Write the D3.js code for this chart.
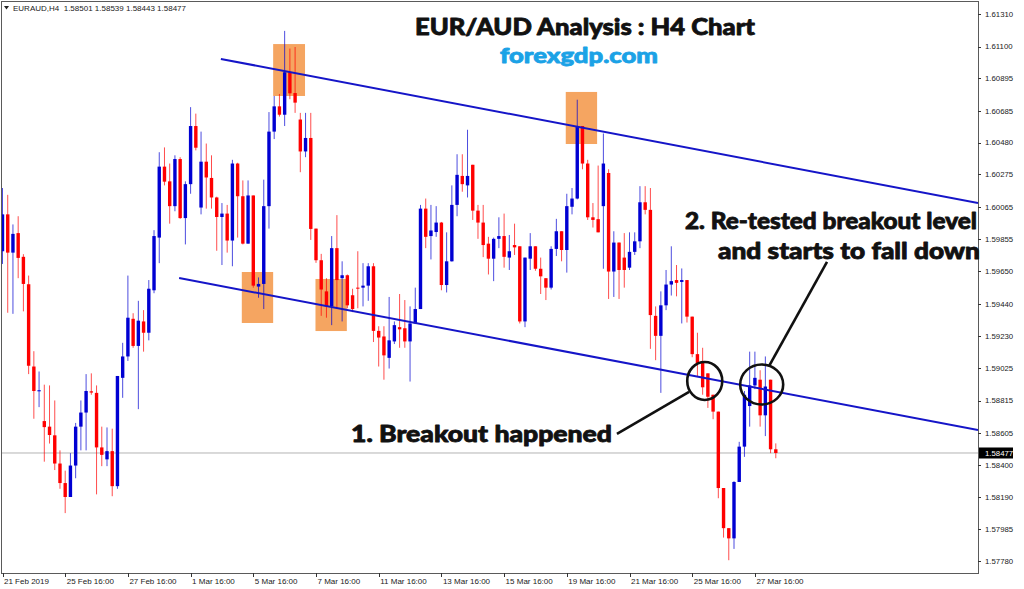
<!DOCTYPE html>
<html><head><meta charset="utf-8">
<script src="https://cdn.jsdelivr.net/npm/d3@7"></script>
<style>body{margin:0;background:#fff}svg{display:block}</style>
</head><body><svg id="c" width="1024" height="589"></svg>
<script>
// ---- data (EURAUD H4, 21 Feb 16:00 .. 28 Mar 08:00) ----
const opens=[1.59779,1.60017,1.59770,1.59896,1.59743,1.59566,1.59035,1.58875,1.58683,1.58647,
1.58591,1.58409,1.58283,1.58193,1.58396,1.58647,1.58738,1.58875,1.58865,1.58513,
1.58436,1.58489,1.58263,1.58962,1.59100,1.59343,1.59168,1.59326,1.59253,1.59527,
1.59867,1.60325,1.60230,1.60070,1.60374,1.59993,1.60212,1.60587,1.60061,1.60357,
1.60252,1.60126,1.60000,1.60022,1.59848,1.60345,1.60134,1.59828,1.60139,1.59551,
1.59568,1.60070,1.60551,1.60714,1.60660,1.60934,1.60800,1.60629,1.60423,1.60510,
1.59925,1.59721,1.59520,1.59423,1.59799,1.59605,1.59624,1.59495,1.59544,1.59544,
1.59557,1.59682,1.59265,1.59229,1.59091,1.59197,1.59289,1.59282,1.59197,1.59313,
1.59406,1.60054,1.59877,1.59903,1.59964,1.59561,1.59714,1.60078,1.60265,1.60204,
1.60337,1.60041,1.59964,1.59828,1.59731,1.59859,1.59877,1.59738,1.59819,1.59811,
1.59326,1.59731,1.59811,1.59666,1.59605,1.59544,1.59794,1.59908,1.59787,1.60066,
1.60119,1.60587,1.60345,1.59998,1.59986,1.60070,1.60284,1.59648,1.59835,1.59738,
1.59673,1.59775,1.59843,1.60095,1.60046,1.59362,1.59233,1.59430,1.59564,1.59593,
1.59581,1.59593,1.59357,1.59115,1.59066,1.58991,1.58853,1.58744,1.58251,1.57992,
1.57926,1.58290,1.58518,1.58780,1.58913,1.58950,1.58720,1.58950,1.58501];
const highs=[1.60187,1.60143,1.59952,1.60005,1.59760,1.59622,1.59134,1.59003,1.58918,1.58913,
1.58816,1.58494,1.58363,1.58476,1.58671,1.58816,1.58986,1.58991,1.58913,1.58647,
1.58642,1.58634,1.58974,1.59188,1.59622,1.59379,1.59459,1.59399,1.59593,1.59915,
1.60418,1.60449,1.60345,1.60398,1.60386,1.60230,1.60709,1.60667,1.60551,1.60474,
1.60398,1.60131,1.60090,1.60078,1.60369,1.60350,1.60236,1.60236,1.60139,1.59610,
1.60241,1.60677,1.60781,1.60794,1.61201,1.61087,1.61097,1.60672,1.60672,1.60672,
1.59925,1.59762,1.59605,1.59877,1.60012,1.59714,1.59629,1.59537,1.59779,1.59702,
1.59702,1.59702,1.59295,1.59295,1.59484,1.59326,1.59503,1.59464,1.59423,1.59544,
1.60078,1.60119,1.60078,1.60070,1.59968,1.59901,1.60204,1.60405,1.60405,1.60563,
1.60337,1.60078,1.60078,1.59872,1.59867,1.59998,1.60022,1.59884,1.59957,1.59811,
1.59738,1.59896,1.59811,1.59738,1.59605,1.59811,1.59988,1.59908,1.60150,1.60187,
1.60757,1.60587,1.60369,1.60090,1.60332,1.60539,1.60308,1.59908,1.59835,1.59896,
1.59901,1.59901,1.60199,1.60199,1.60187,1.59423,1.59520,1.59658,1.59811,1.59690,
1.59668,1.59593,1.59357,1.59253,1.59156,1.58991,1.58853,1.58744,1.58251,1.57992,
1.58295,1.58549,1.58877,1.59131,1.59131,1.59011,1.59100,1.58950,1.58539];
const lows=[1.59697,1.59382,1.59375,1.59605,1.59391,1.58986,1.58698,1.58773,1.58421,1.58538,
1.58367,1.58246,1.58089,1.58193,1.58314,1.58494,1.58494,1.58853,1.58210,1.58392,
1.58392,1.58198,1.58246,1.58833,1.59071,1.59156,1.58760,1.59131,1.59204,1.59508,
1.59702,1.60204,1.59957,1.60037,1.59988,1.59823,1.60150,1.60430,1.60017,1.60054,
1.60054,1.59782,1.59690,1.59770,1.59682,1.59867,1.59823,1.59828,1.59544,1.59479,
1.59406,1.59925,1.60503,1.60648,1.60587,1.60760,1.60672,1.60289,1.60386,1.59852,
1.59704,1.59362,1.59350,1.59302,1.59411,1.59326,1.59411,1.59386,1.59411,1.59423,
1.59459,1.59193,1.59035,1.58950,1.59022,1.59180,1.59156,1.59156,1.58938,1.59309,
1.59406,1.59799,1.59726,1.59872,1.59527,1.59513,1.59712,1.60005,1.60163,1.60126,
1.59981,1.59859,1.59741,1.59629,1.59586,1.59799,1.59673,1.59658,1.59755,1.59313,
1.59289,1.59658,1.59653,1.59503,1.59464,1.59532,1.59748,1.59714,1.59641,1.60017,
1.60114,1.60308,1.59981,1.59932,1.59901,1.59666,1.59471,1.59484,1.59471,1.59544,
1.59658,1.59755,1.59799,1.60017,1.59149,1.59076,1.58865,1.59399,1.59493,1.59488,
1.59313,1.59319,1.59095,1.58974,1.58853,1.58768,1.58695,1.58185,1.57931,1.57785,
1.57858,1.58290,1.58452,1.58647,1.58889,1.58647,1.58586,1.58476,1.58443];
const closes=[1.60017,1.59770,1.59891,1.59736,1.59568,1.59040,1.58877,1.58882,1.58644,1.58593,
1.58409,1.58283,1.58193,1.58396,1.58647,1.58738,1.58877,1.58867,1.58513,1.58465,
1.58489,1.58263,1.58974,1.59100,1.59350,1.59168,1.59331,1.59253,1.59537,1.59877,
1.60325,1.60228,1.60070,1.60374,1.59993,1.60212,1.60587,1.60447,1.60357,1.60255,
1.60126,1.60000,1.60022,1.59848,1.60345,1.60134,1.59828,1.60139,1.59557,1.59568,
1.60070,1.60551,1.60714,1.60660,1.60934,1.60798,1.60738,1.60423,1.60510,1.59923,
1.59721,1.59532,1.59423,1.59799,1.59593,1.59624,1.59430,1.59406,1.59539,1.59557,
1.59682,1.59265,1.59222,1.59107,1.59204,1.59302,1.59275,1.59197,1.59313,1.59406,
1.60054,1.59872,1.59913,1.59964,1.59561,1.59714,1.60078,1.60272,1.60212,1.60265,
1.60041,1.59964,1.59819,1.59731,1.59859,1.59877,1.59743,1.59779,1.59804,1.59326,
1.59738,1.59811,1.59666,1.59617,1.59544,1.59794,1.59908,1.59787,1.60070,1.60119,
1.60587,1.60345,1.59998,1.59981,1.59901,1.60345,1.59648,1.59835,1.59658,1.59658,
1.59775,1.59843,1.60095,1.60046,1.59367,1.59233,1.59430,1.59564,1.59586,1.59575,
1.59593,1.59357,1.59115,1.59051,1.58901,1.58840,1.58744,1.58251,1.57992,1.57926,
1.58290,1.58518,1.58853,1.58913,1.58962,1.58720,1.58906,1.58501,1.58477];

const priceTicks=[1.61310,1.61100,1.60895,1.60685,1.60480,1.60275,1.60065,1.59855,1.59650,
1.59440,1.59230,1.59025,1.58815,1.58605,1.58400,1.58190,1.57985,1.57780];
const timeTickIdx=[0,12,24,36,48,60,72,84,96,108,120,132,144];
const timeTickLabels=["21 Feb 2019","25 Feb 16:00","27 Feb 16:00","1 Mar 16:00","5 Mar 16:00",
"7 Mar 16:00","11 Mar 16:00","13 Mar 16:00","15 Mar 16:00","19 Mar 16:00","21 Mar 16:00",
"25 Mar 16:00","27 Mar 16:00"];
const lastPrice=1.58477;
const header="EURAUD,H4  1.58501 1.58539 1.58443 1.58477";

// annotation anchors (bar index, price)
const zoneBoxes=[[51.8,1.61116,57.9,1.60781],[45.8,1.59645,51.8,1.59316],[59.9,1.59600,65.9,1.59264],[107.8,1.60807,113.8,1.60471]];
const trendLines=[[41.8,1.61020,186.7,1.60090],[33.8,1.59606,186.7,1.58625]];
const circles=[[134.4,1.58942],[145.3,1.58919]];
const pointers=[[117.6,1.58600,131.4,1.58871],[146.7,1.59038,157.8,1.59710]];

// ---- drawing ----
const W=1024,H=589,L=2,R=978,T=2,B=573;
const svg=d3.select('#c');
const x=d3.scaleLinear().domain([0,148]).range([2.5,775.8]);
const y=d3.scaleLinear().domain([1.57780,1.61310]).range([561,14]);
const data=opens.map((o,i)=>({i,o,h:highs[i],l:lows[i],c:closes[i]}));

svg.append('rect').attr('width',W).attr('height',H).attr('fill','#fff');
svg.append('defs').append('clipPath').attr('id','clip').append('rect')
  .attr('x',L).attr('y',T).attr('width',R-L).attr('height',B-T);
const g=svg.append('g').attr('clip-path','url(#clip)');

// zones
g.selectAll('rect.zone').data(zoneBoxes).join('rect').attr('class','zone')
  .attr('x',d=>x(d[0])).attr('y',d=>y(d[1]))
  .attr('width',d=>x(d[2])-x(d[0])).attr('height',d=>y(d[3])-y(d[1]))
  .attr('fill','#f5a561');

// bid line
g.append('line').attr('x1',L).attr('x2',R).attr('y1',y(lastPrice)).attr('y2',y(lastPrice))
  .attr('stroke','#b4b4b4').attr('stroke-width',1);

// candles
const col=d=>d.c>=d.o?'#0000d2':'#ff0000';
g.selectAll('line.wick').data(data).join('line').attr('class','wick')
  .attr('x1',d=>x(d.i)).attr('x2',d=>x(d.i)).attr('y1',d=>y(d.h)).attr('y2',d=>y(d.l))
  .attr('stroke',col).attr('stroke-opacity',0.7).attr('stroke-width',1);
g.selectAll('rect.body').data(data).join('rect').attr('class','body')
  .attr('x',d=>x(d.i)-1.7).attr('width',3.4)
  .attr('y',d=>Math.min(y(d.o),y(d.c)))
  .attr('height',d=>Math.max(1,Math.abs(y(d.o)-y(d.c))))
  .attr('fill',col);

// trend lines
g.selectAll('line.trend').data(trendLines).join('line').attr('class','trend')
  .attr('x1',d=>x(d[0])).attr('y1',d=>y(d[1])).attr('x2',d=>x(d[2])).attr('y2',d=>y(d[3]))
  .attr('stroke','#1515c8').attr('stroke-width',2);

// frame
svg.append('rect').attr('x',L-0.5).attr('y',T-0.5).attr('width',R-L+1).attr('height',B-T+1)
  .attr('fill','none').attr('stroke','#5a5a5a').attr('stroke-width',1);

// right axis
const ax=svg.append('g');
ax.selectAll('line').data(priceTicks).join('line')
  .attr('x1',R).attr('x2',R+3).attr('y1',d=>Math.round(y(d))+0.5).attr('y2',d=>Math.round(y(d))+0.5)
  .attr('stroke','#333');
ax.selectAll('text').data(priceTicks).join('text')
  .attr('x',985).attr('y',d=>y(d)+2.8).text(d=>d.toFixed(5))
  .attr('font-family','Liberation Sans, Arial, sans-serif').attr('font-size',7.8).attr('fill','#222');
// last price tag
svg.append('rect').attr('x',979).attr('y',y(lastPrice)-5.5).attr('width',34).attr('height',11).attr('fill','#000');
svg.append('text').attr('x',985).attr('y',y(lastPrice)+2.8).text(lastPrice.toFixed(5))
  .attr('font-family','Liberation Sans, Arial, sans-serif').attr('font-size',7.8).attr('fill','#fff');

// bottom axis
const bx=svg.append('g');
bx.selectAll('line').data(timeTickIdx).join('line')
  .attr('x1',d=>Math.round(x(d))+0.5).attr('x2',d=>Math.round(x(d))+0.5).attr('y1',B).attr('y2',B+4)
  .attr('stroke','#333');
bx.selectAll('text').data(timeTickIdx).join('text')
  .attr('x',d=>x(d)+1.5).attr('y',584).text((d,k)=>timeTickLabels[k])
  .attr('font-family','Liberation Sans, Arial, sans-serif').attr('font-size',8).attr('fill','#222');

// header
svg.append('path').attr('d','M4,6 L9,6 L6.5,9.5 Z').attr('fill','#222');
svg.append('text').attr('x',13).attr('y',11).text(header)
  .attr('font-family','Liberation Sans, Arial, sans-serif').attr('font-size',8).attr('fill','#222')
  .attr('xml:space','preserve').style('white-space','pre');

// annotations
const ann=svg.append('g');
ann.selectAll('ellipse').data(circles).join('ellipse')
  .attr('cx',d=>x(d[0])).attr('cy',d=>y(d[1])).attr('rx',(d,k)=>k?21.5:17.5).attr('ry',(d,k)=>k?20:19)
  .attr('fill','none').attr('stroke','#111').attr('stroke-width',2.6);
ann.selectAll('line').data(pointers).join('line')
  .attr('x1',d=>x(d[0])).attr('y1',d=>y(d[1])).attr('x2',d=>x(d[2])).attr('y2',d=>y(d[3]))
  .attr('stroke','#111').attr('stroke-width',2.6);

const bold='Lato, "Open Sans", sans-serif';
function txt(s,xx,yy,len,size,fill){
  ann.append('text').attr('x',xx).attr('y',yy).text(s).attr('font-family',bold)
    .attr('font-weight',900).attr('font-size',size).attr('fill',fill)
    .attr('stroke',fill).attr('stroke-width',0.8).attr('stroke-linejoin','round')
    .attr('textLength',len).attr('lengthAdjust','spacingAndGlyphs');
}
txt('EUR/AUD Analysis : H4 Chart',415,35,340,23,'#111');
txt('forexgdp.com',500,63,158,21,'#1ba2e6');
txt('1. Breakout happened',351,442,261,22,'#111');
txt('2. Re-tested breakout level',685,229,292,22,'#111');
txt('and starts to fall down',718,259,262,22,'#111');
</script></body></html>
